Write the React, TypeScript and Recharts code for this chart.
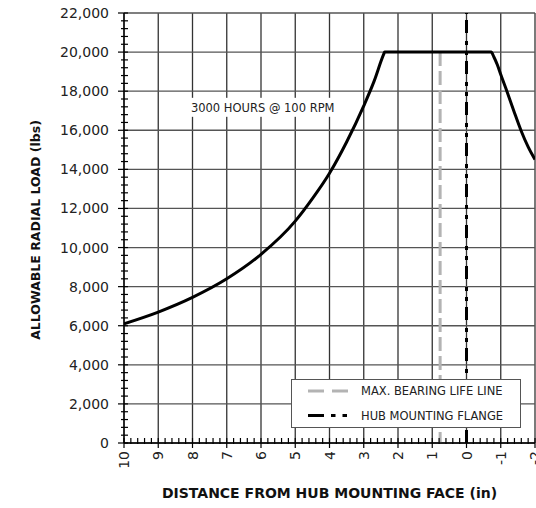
import React from "react";
import {
  LineChart,
  Line,
  XAxis,
  YAxis,
  CartesianGrid,
  ReferenceLine,
  ReferenceDot,
  Legend,
} from "recharts";

// distance from hub mounting face (in) and allowable radial load (lbs)
const distanceIn: number[] = [10, 9, 8, 7, 6, 5, 4.5, 4, 3.5, 3, 2.7, 2.42, 2.39, -0.72, -0.8, -0.9, -1, -1.2, -1.4, -1.6, -1.8, -2];
const allowableLoad: number[] = [6100, 6700, 7450, 8400, 9650, 11350, 12500, 13800, 15400, 17250, 18500, 19880, 20000, 20000, 19750, 19350, 18850, 17900, 16900, 15950, 15150, 14500];

const xMajorTicks: number[] = [10, 9, 8, 7, 6, 5, 4, 3, 2, 1, 0, -1, -2];
const yMajorTicks: number[] = [0, 2000, 4000, 6000, 8000, 10000, 12000, 14000, 16000, 18000, 20000, 22000];
const xMinorTicks: number[] = Array.from({ length: 61 }, (_, i) => +(10 - i * 0.2).toFixed(1));
const yMinorTicks: number[] = Array.from({ length: 56 }, (_, i) => i * 400);

const bearingLifeX = 0.77;
const flangeX = 0;
const noteX = 5.95;
const noteY = 17200;
const noteText = "3000 HOURS @ 100 RPM";

const legendItems = [
  { label: "MAX. BEARING LIFE LINE", color: "#b3b3b3", dash: "16 8" },
  { label: "HUB MOUNTING FLANGE", color: "#000", dash: "16 7 4.5 7 4.5 40" },
];

const chartData = distanceIn.map((d, i) => ({ distance: d, load: allowableLoad[i] }));

const FONT = "'DejaVu Sans', sans-serif";

const YTick = (props: any) => {
  const { x, y, payload } = props;
  const major = payload.value % 2000 === 0;
  return (
    <g>
      <line x1={x - (major ? 6 : 3)} x2={x + 4} y1={y} y2={y} stroke="#000" strokeWidth={1.2} />
      {major && (
        <text x={x - 15} y={y} textAnchor="end" dominantBaseline="central" fontSize={14} fill="#222" fontFamily={FONT}>
          {payload.value.toLocaleString("en-US")}
        </text>
      )}
    </g>
  );
};

const XTick = (props: any) => {
  const { x, y, payload } = props;
  const major = Number.isInteger(payload.value);
  const ty = y + 8;
  return (
    <g>
      <line x1={x} x2={x} y1={y - 5} y2={y + (major ? 5 : 1)} stroke="#000" strokeWidth={1.2} />
      {major && (
        <text
          x={x}
          y={ty}
          transform={`rotate(-90 ${x} ${ty})`}
          textAnchor="end"
          dominantBaseline="central"
          fontSize={14}
          fill="#222"
          fontFamily={FONT}
        >
          {payload.value}
        </text>
      )}
    </g>
  );
};

const NoteBox = (props: any) => {
  const { cx, cy } = props;
  return (
    <g>
      <rect x={cx - 74} y={cy - 9} width={148} height={19} fill="#fff" />
      <text x={cx} y={cy + 1.5} textAnchor="middle" dominantBaseline="central" fontSize={11.5} fill="#222" fontFamily={FONT}>
        {noteText}
      </text>
    </g>
  );
};

const LegendBox = () => (
  <div style={{ width: 230, height: 49, border: "1.3px solid #555", background: "#fff", boxSizing: "border-box" }}>
    <svg width={228} height={47} style={{ display: "block" }}>
      {legendItems.map((item, i) => (
        <g key={item.label}>
          <line x1={16} x2={56} y1={11 + i * 24.5} y2={11 + i * 24.5} stroke={item.color} strokeWidth={3} strokeDasharray={item.dash} />
          <text x={69} y={11 + i * 24.5} dominantBaseline="central" fontSize={11.5} fill="#222" fontFamily={FONT}>
            {item.label}
          </text>
        </g>
      ))}
    </svg>
  </div>
);

export default function App() {
  return (
    <div style={{ fontFamily: FONT }}>
      <style>{`body { margin: 0; }`}</style>
      <LineChart width={536} height={508} data={chartData} margin={{ top: 13, right: 1, bottom: 0, left: 0 }}>
        <CartesianGrid horizontal={false} verticalValues={xMajorTicks} stroke="#333" strokeWidth={1.3} />
        <CartesianGrid vertical={false} horizontalValues={yMajorTicks} stroke="#555" strokeWidth={1.3} />
        <XAxis
          dataKey="distance"
          type="number"
          domain={[-2, 10]}
          reversed
          ticks={xMinorTicks}
          interval={0}
          tickSize={0}
          tickMargin={0}
          tickLine={false}
          tick={<XTick />}
          height={65}
          axisLine={{ stroke: "#000", strokeWidth: 1.3 }}
          allowDataOverflow
          label={(p: any) => {
            const vb = p.viewBox;
            return (
              <text x={vb.x + vb.width / 2} y={vb.y + 50} textAnchor="middle" dominantBaseline="central" fontSize={14} fontWeight="bold" fill="#111" fontFamily={FONT}>
                DISTANCE FROM HUB MOUNTING FACE (in)
              </text>
            );
          }}
        />
        <YAxis
          type="number"
          domain={[0, 22000]}
          ticks={yMinorTicks}
          interval={0}
          tickSize={0}
          tickMargin={0}
          tickLine={false}
          tick={<YTick />}
          width={124}
          axisLine={{ stroke: "#000", strokeWidth: 1.3 }}
          label={(p: any) => {
            const vb = p.viewBox;
            const cx = 35;
            const cy = vb.y + vb.height / 2 + 2;
            return (
              <text x={cx} y={cy} transform={`rotate(-90 ${cx} ${cy})`} textAnchor="middle" dominantBaseline="central" fontSize={12.5} fontWeight="bold" fill="#111" fontFamily={FONT}>
                ALLOWABLE RADIAL LOAD (lbs)
              </text>
            );
          }}
        />
        <ReferenceLine
          segment={[
            { x: bearingLifeX, y: 20000 },
            { x: bearingLifeX, y: 0 },
          ]}
          stroke="#b3b3b3"
          strokeWidth={3}
          strokeDasharray="14 5"
        />
        <ReferenceLine x={flangeX} stroke="#000" strokeWidth={3} strokeDasharray="13 6 4 6 4 8" />
        <Line type="monotone" dataKey="load" stroke="#000" strokeWidth={3} dot={false} isAnimationActive={false} />
        <ReferenceDot x={noteX} y={noteY} shape={<NoteBox />} />
        <Legend
          layout="vertical"
          align="center"
          verticalAlign="middle"
          content={<LegendBox />}
          wrapperStyle={{ left: 291, top: 379, width: 230, height: 49 }}
        />
      </LineChart>
    </div>
  );
}
